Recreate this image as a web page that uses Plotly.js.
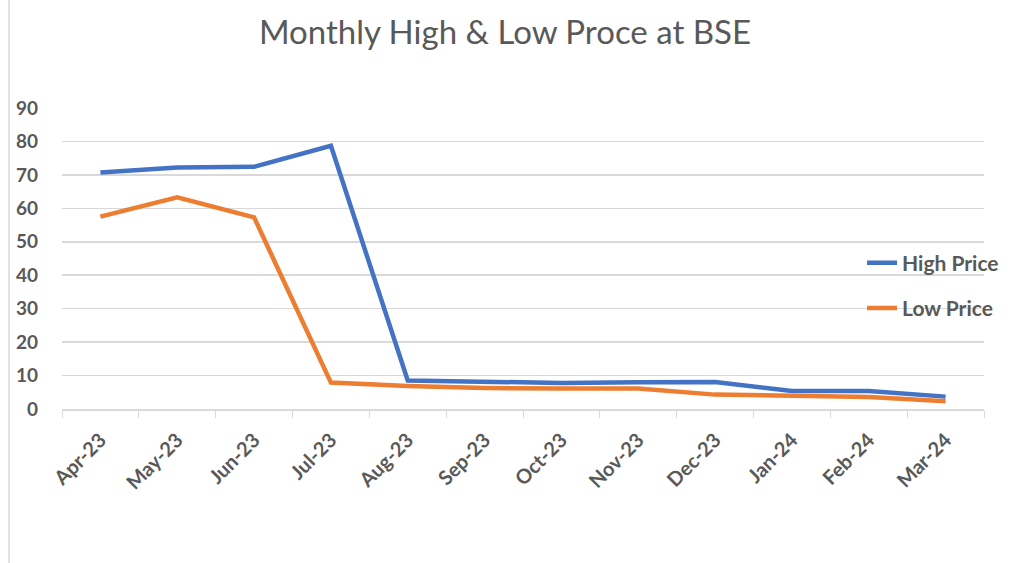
<!DOCTYPE html>
<html>
<head>
<meta charset="utf-8">
<script src="https://cdn.plot.ly/plotly-3.0.1.min.js"></script>
<style>
html,body{margin:0;padding:0;background:#fff;}
#chart{width:1016px;height:563px;}
</style>
</head>
<body>
<div id="chart"></div>
<script>
var months = ["Apr-23","May-23","Jun-23","Jul-23","Aug-23","Sep-23","Oct-23","Nov-23","Dec-23","Jan-24","Feb-24","Mar-24"];
var highPrice = [70.7, 72.2, 72.4, 78.7, 8.5, 8.2, 7.8, 8.0, 8.1, 5.4, 5.4, 3.7];
var lowPrice  = [57.5, 63.3, 57.3, 7.9, 6.9, 6.3, 6.1, 6.1, 4.3, 4.0, 3.6, 2.3];
var seriesNames = ["High Price", "Low Price"];
var yTicks = [0,10,20,30,40,50,60,70,80,90];

var fontFam = "Lato, 'Open Sans', 'Liberation Sans', sans-serif";
var grey = "#595959";

var traces = [
  {x: months, y: highPrice, name: seriesNames[0], type: "scatter", mode: "lines",
   line: {color: "#4472C4", width: 4.5}, legendgroup: "a"},
  {x: months, y: lowPrice, name: seriesNames[1], type: "scatter", mode: "lines",
   line: {color: "#ED7D31", width: 4.5}, legendgroup: "b"}
];

var layout = {
  width: 1016, height: 563,
  paper_bgcolor: "#ffffff", plot_bgcolor: "rgba(0,0,0,0)",
  margin: {l: 62, r: 32, t: 108, b: 154},
  title: {text: "Monthly High & Low Proce at BSE", x: 0.497, xanchor: "center", y: 0.943, yanchor: "middle",
          font: {family: fontFam, size: 33, color: grey}},
  xaxis: {
    type: "category", tickson: "boundaries", ticks: "outside", ticklen: 7, tickcolor: "#d9d9d9",
    showline: true, linecolor: "#d9d9d9", linewidth: 1.5, showgrid: false,
    tickangle: -45, ticklabelstandoff: 10,
    tickfont: {family: fontFam, size: 20, color: grey, weight: "bold"},
    range: [-0.5, 11.5], fixedrange: true
  },
  yaxis: {
    range: [0, 90], tickvals: yTicks, ticktext: yTicks.map(String),
    showgrid: true, gridcolor: "#d9d9d9", gridwidth: 1.5, zeroline: false,
    showline: false, ticks: "", ticklabelstandoff: 23,
    tickfont: {family: fontFam, size: 19, color: grey, weight: "bold"}, fixedrange: true
  },
  showlegend: true,
  legend: {x: 0.8677, y: 0.41, xanchor: "left", yanchor: "middle", bgcolor: "rgba(0,0,0,0)",
           traceorder: "grouped", tracegroupgap: 15,
           font: {family: fontFam, size: 21, color: grey, weight: "bold"}},
  shapes: [
    {type: "line", xref: "paper", yref: "paper", x0: -0.0575, x1: -0.0575, y0: -0.52, y1: 1.36,
     line: {color: "#d9d9d9", width: 1.5}}
  ]
};

Plotly.newPlot("chart", traces, layout, {displayModeBar: false, staticPlot: true});
</script>
</body>
</html>
